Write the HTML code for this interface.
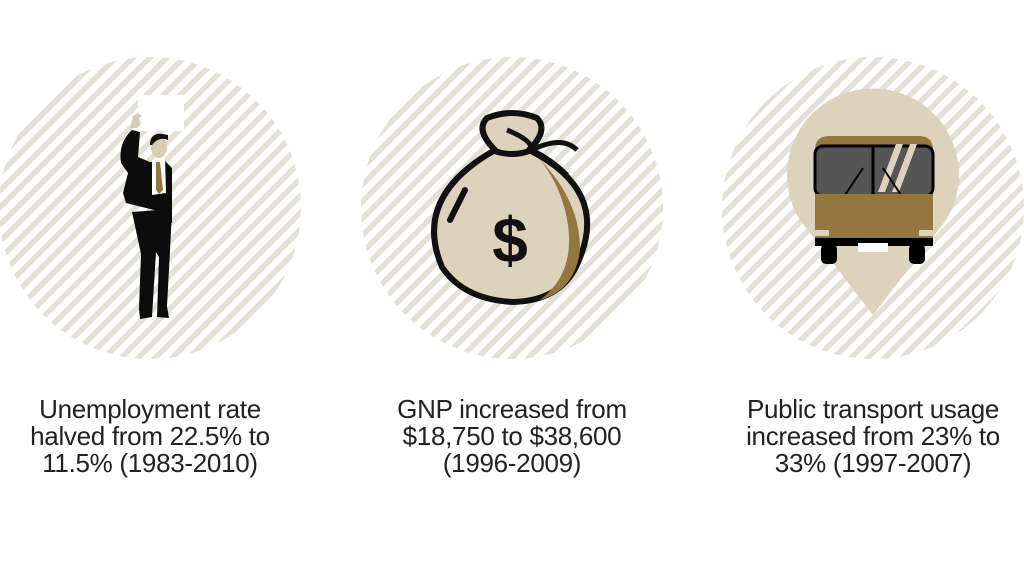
<!DOCTYPE html>
<html><head><meta charset="utf-8"><style>
body{margin:0;width:1024px;height:576px;background:#fff;overflow:hidden;font-family:"Liberation Sans",sans-serif}
.cap{position:absolute;width:360px;text-align:center;font-size:26px;line-height:27px;color:#222;top:396px;white-space:nowrap;letter-spacing:-0.3px}
</style></head><body>
<svg width="1024" height="576" style="position:absolute;left:0;top:0">
<defs>
<pattern id="st" patternUnits="userSpaceOnUse" width="12" height="12" patternTransform="rotate(45)">
<rect width="5.5" height="12" fill="#e3e0d7"/>
</pattern>
</defs>
<circle cx="150" cy="208" r="151" fill="url(#st)"/>
<circle cx="512" cy="208" r="151" fill="url(#st)"/>
<circle cx="873" cy="208" r="151" fill="url(#st)"/>

<g>
<rect x="138" y="95" width="46" height="36" fill="#fff"/>
<path d="M130 128 l3 -12 l5 -3 l4 3 l-3 2 l2 6 l-4 4 z" fill="#d8ccb5"/>
<path d="M132 130 l8 2 l-2 25 l12 5 l14 -2 l8 8 l0 55 l-4 0 l-2 -10 l-40 -10 l-3 -10 l5 -20 l-7 -10 q-3 -20 11 -33 z" fill="#0c0c0c"/>
<path d="M132 212 l40 -3 l-2 42 l-3 55 l2 12 l-12 -1 l2 -60 l-3 -5 l-4 65 l-12 2 l-1 -10 l2 -55 z" fill="#0c0c0c"/>
<ellipse cx="159" cy="147" rx="8" ry="11" fill="#d8ccb5"/>
<path d="M150 145 q0 -15 18 -10 l0 5 q-9 -4 -16 5z" fill="#111"/>
<path d="M152 160 l13 -2 l1 35 l-14 2 z" fill="#fff"/>
<path d="M156 162 l4 0 l3 28 l-4 4 l-3 -4 z" fill="#94773f"/>
</g>

<g>
<path d="M495 150 q-20 -20 -8 -32 q25 -10 50 0 q12 12 -8 32 q80 40 50 110 q-15 40 -65 42 q-50 -2 -72 -35 q-30 -70 53 -117 z" fill="#ddd2bb" stroke="#111" stroke-width="6" stroke-linejoin="round"/>
<path d="M540 160 q40 40 40 90 q-5 40 -40 50 q40 -30 25 -90 q-8 -30 -25 -50z" fill="#94773f"/>
<path d="M492 150 q20 8 40 0" fill="none" stroke="#111" stroke-width="6"/>
<path d="M532 150 q30 -15 45 0 M532 150 q20 10 35 25 M532 150 q0 -10 -25 -20" fill="none" stroke="#111" stroke-width="5"/>
<path d="M465 190 l-15 30" stroke="#111" stroke-width="6" stroke-linecap="round"/>
<text x="510" y="262" text-anchor="middle" font-size="64" font-weight="bold" fill="#111" font-family="Liberation Sans,sans-serif">$</text>
</g>

<g>
<path d="M873 315 L800 220 A86 86 0 1 1 946 220 Z" fill="#ddd2bc"/>
<path d="M815 150 q0 -14 14 -14 l90 0 q14 0 14 14 l0 90 l-118 0z" fill="#94773f"/>
<rect x="815" y="146" width="118" height="50" rx="8" fill="#555" stroke="#000" stroke-width="3"/>
<line x1="873" y1="146" x2="873" y2="196" stroke="#000" stroke-width="3"/>
<path d="M878 192 l18 -48 l7 0 l-18 48z M892 192 l18 -48 l7 0 l-18 48z" fill="#ddd2bc"/>
<path d="M843 198 l20 -30 M903 198 l-20 -30" stroke="#000" stroke-width="2"/>
<rect x="815" y="194" width="118" height="44" fill="#94773f"/>
<rect x="815" y="230" width="14" height="6" fill="#ddd2bc"/><rect x="919" y="230" width="14" height="6" fill="#ddd2bc"/>
<rect x="815" y="238" width="118" height="8" fill="#000"/>
<rect x="858" y="243" width="30" height="9" fill="#fff"/>
<rect x="821" y="244" width="16" height="20" rx="5" fill="#000"/>
<rect x="909" y="244" width="16" height="20" rx="5" fill="#000"/>
</g>
</svg>
<div class="cap" style="left:-30px">Unemployment rate<br>halved from 22.5% to<br>11.5% (1983-2010)</div>
<div class="cap" style="left:332px">GNP increased from<br>$18,750 to $38,600<br>(1996-2009)</div>
<div class="cap" style="left:693px">Public transport usage<br>increased from 23% to<br>33% (1997-2007)</div>
</body></html>
